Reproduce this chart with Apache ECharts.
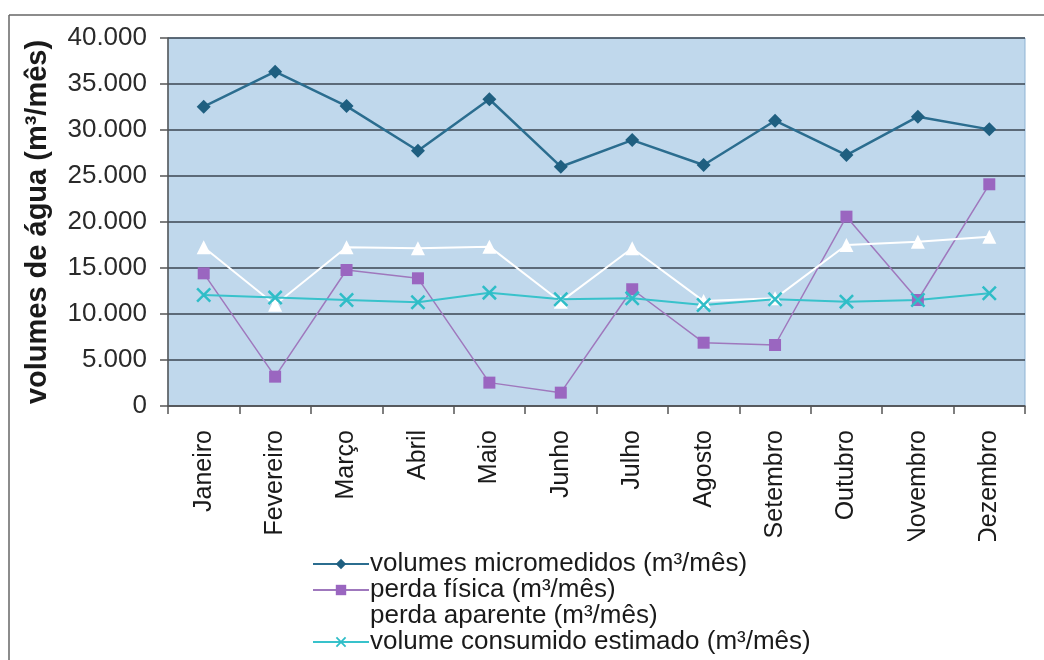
<!DOCTYPE html>
<html>
<head>
<meta charset="utf-8">
<script src="https://cdn.jsdelivr.net/npm/echarts@6/dist/echarts.min.js"></script>
<style>
html,body{margin:0;padding:0;background:#fff;}
#chart{width:1044px;height:660px;}
</style>
</head>
<body>
<div id="chart"></div>
<script>
const categories = ['Janeiro','Fevereiro','Março','Abril','Maio','Junho','Julho','Agosto','Setembro','Outubro','Novembro','Dezembro'];
const volumesMicromedidos = [32530, 36340, 32600, 27750, 33340, 26010, 28900, 26200, 31010, 27280, 31450, 30070];
const perdaFisica = [14420, 3190, 14780, 13880, 2540, 1450, 12690, 6880, 6630, 20580, 11520, 24100];
const perdaAparente = [17250, 11000, 17250, 17140, 17320, 11340, 17140, 11400, 11700, 17500, 17860, 18400];
const volumeConsumido = [12070, 11780, 11520, 11270, 12320, 11600, 11700, 10980, 11600, 11340, 11520, 12250];
const seriesNames = ['volumes micromedidos (m³/mês)','perda física (m³/mês)','perda aparente (m³/mês)','volume consumido estimado (m³/mês)'];
const yTicks = {min: 0, max: 40000, interval: 5000};

const FONT = '"Liberation Sans", Arial, sans-serif';
const xSymbol = 'path://M0,1.2L1.2,0L10,8.8L8.8,10Z M8.8,0L10,1.2L1.2,10L0,8.8Z';

const chart = echarts.init(document.getElementById('chart'));
chart.setOption({
  animation: false,
  backgroundColor: '#ffffff',
  textStyle: {fontFamily: FONT},
  grid: {left: 168, top: 38, right: 19, bottom: 254, show: true,
         backgroundColor: '#c0d8ec', borderColor: '#8fb3d3', borderWidth: 1},
  graphic: [
    {type: 'rect', z: 50, shape: {x: 300, y: 541, width: 712, height: 119}, style: {fill: '#ffffff'}},
    {type: 'line', z: 50, shape: {x1: 9, y1: 15, x2: 1044, y2: 15}, style: {stroke: '#666', lineWidth: 1.5}},
    {type: 'line', z: 50, shape: {x1: 9, y1: 15, x2: 9, y2: 660}, style: {stroke: '#666', lineWidth: 1.5}}
  ],
  legend: {
    z: 100,
    orient: 'vertical',
    left: 312, top: 551,
    padding: 0,
    itemGap: 0,
    itemWidth: 56, itemHeight: 13,
    textStyle: {fontSize: 26, lineHeight: 24, color: '#1a1a1a', fontFamily: FONT, padding: [0,0,0,-4]},
    data: seriesNames
  },
  xAxis: {
    type: 'category',
    data: categories,
    boundaryGap: true,
    axisLine: {lineStyle: {color: '#555', width: 1.5}},
    axisTick: {show: true, length: 8, alignWithLabel: false, lineStyle: {color: '#555', width: 1.5}},
    axisLabel: {rotate: 90, fontSize: 25, color: '#1a1a1a', margin: 24, interval: 0, fontFamily: FONT}
  },
  yAxis: {
    type: 'value',
    min: yTicks.min, max: yTicks.max, interval: yTicks.interval,
    name: 'volumes de água (m³/mês)',
    nameLocation: 'middle',
    nameGap: 116,
    nameTextStyle: {fontSize: 29, fontWeight: 'bold', color: '#1a1a1a', fontFamily: FONT},
    axisLine: {show: true, lineStyle: {color: '#555', width: 1.5}},
    axisTick: {show: true, length: 8, lineStyle: {color: '#555', width: 1.5}},
    axisLabel: {fontSize: 26, color: '#2a2a2a', margin: 21, fontFamily: FONT,
      formatter: v => v === 0 ? '0' : (v/1000).toFixed(0) + '.000'},
    splitLine: {show: true, lineStyle: {color: '#3b4652', width: 1.5}}
  },
  series: [
    {name: seriesNames[0], type: 'line', data: volumesMicromedidos,
     symbol: 'diamond', symbolSize: 14,
     lineStyle: {color: '#2b6d8f', width: 2.5},
     itemStyle: {color: '#1f5f80'}},
    {name: seriesNames[1], type: 'line', data: perdaFisica,
     symbol: 'rect', symbolSize: 12,
     lineStyle: {color: '#9f78bd', width: 1.5},
     itemStyle: {color: '#9a66c0'}},
    {name: seriesNames[2], type: 'line', data: perdaAparente,
     symbol: 'triangle', symbolSize: 14,
     lineStyle: {color: '#ffffff', width: 2},
     itemStyle: {color: '#ffffff'}},
    {name: seriesNames[3], type: 'line', data: volumeConsumido,
     symbol: xSymbol, symbolSize: 15,
     lineStyle: {color: '#38c2cb', width: 2},
     itemStyle: {color: '#2fbdc7'}}
  ]
});
</script>
</body>
</html>
